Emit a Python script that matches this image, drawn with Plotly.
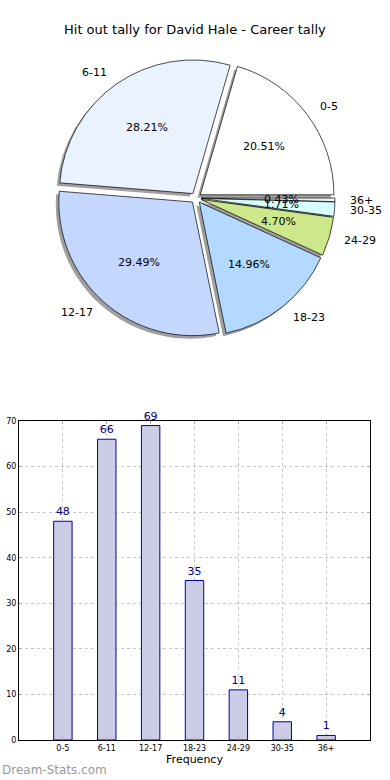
import math
import plotly.graph_objects as go

categories = ["0-5", "6-11", "12-17", "18-23", "24-29", "30-35", "36+"]
counts = [48, 66, 69, 35, 11, 4, 1]
slice_colors = ["#FFFFFF", "#EAF2FF", "#C4D8FF", "#B3D9FF", "#CCE88A", "#D8FFFF", "#F4F4F4"]
y_ticks = [0, 10, 20, 30, 40, 50, 60, 70]
title_text = "Hit out tally for David Hale - Career tally"
x_title = "Frequency"
watermark = "Dream-Stats.com"

W, H = 390, 780
FONT = "DejaVu Sans"

# pie geometry (pixels)
cx, cy, ext = 196, 198, 139
pull = 0.04
r = ext / (1 + pull)

def dom(dx=0, dy=0):
    return dict(x=[(cx - ext + dx) / W, (cx + ext + dx) / W],
                y=[1 - (cy + ext + dy) / H, 1 - (cy - ext + dy) / H])

# counter-clockwise from 3 o'clock == reversed order clockwise ending at 3 o'clock
rev_labels = categories[::-1]
rev_values = counts[::-1]
rev_colors = slice_colors[::-1]
common = dict(labels=rev_labels, values=rev_values, sort=False, direction="clockwise",
              rotation=90, pull=[pull] * len(counts), hoverinfo="skip", showlegend=False,
              textinfo="none")

fig = go.Figure()
fig.add_trace(go.Pie(**common, domain=dom(-3, 3),
                     marker=dict(colors=["rgba(80,80,80,0.55)"] * len(counts),
                                 line=dict(width=0))))
fig.add_trace(go.Pie(**common, domain=dom(),
                     marker=dict(colors=rev_colors, line=dict(color="black", width=0.7))))

# text positions derived from the data (matplotlib-style: pct at 0.6r, labels at 1.1r)
total = sum(counts)
mids, acc = [], 0.0
for v in counts:
    mids.append(2 * math.pi * (acc + v / 2) / total)
    acc += v
pct_text = ["%.2f%%" % (100 * v / total) for v in counts]
px_ = [(0.6 + pull) * r * math.cos(a) for a in mids]
py_ = [(0.6 + pull) * r * math.sin(a) for a in mids]
lx_ = [(1.1 + pull) * r * math.cos(a) for a in mids]
ly_ = [(1.1 + pull) * r * math.sin(a) for a in mids]

# invisible anchor trace for the pie-text coordinate system
fig.add_trace(go.Scatter(x=lx_, y=ly_, mode="markers", marker=dict(opacity=0),
                         xaxis="x2", yaxis="y2", showlegend=False, hoverinfo="skip"))

annots = []
for x, y, t in zip(px_, py_, pct_text):
    annots.append(dict(text=t, x=x, y=y, xref="x2", yref="y2", showarrow=False,
                       font=dict(family=FONT, size=11, color="black"),
                       xanchor="center", yanchor="middle"))
for x, y, t in zip(lx_, ly_, categories):
    annots.append(dict(text=t, x=x, y=y, xref="x2", yref="y2", showarrow=False,
                       font=dict(family=FONT, size=11, color="black"),
                       xanchor="left" if x > 0 else "right", yanchor="middle"))

# bar chart
fig.add_trace(go.Bar(x=categories, y=counts, width=0.42, text=[str(v) for v in counts],
                     textposition="outside", cliponaxis=False,
                     textfont=dict(family=FONT, size=11, color="#000080"),
                     marker=dict(color="#CCCCE6", line=dict(color="#000099", width=1)),
                     showlegend=False, hoverinfo="skip"))

annots += [
    dict(text=title_text, x=0.5, y=1 - 30 / H, xref="paper", yref="paper",
         showarrow=False, font=dict(size=13, color="black"), xanchor="center", yanchor="middle"),
    dict(text=watermark, x=0, y=1 - 770 / H, xref="paper", yref="paper",
         showarrow=False, font=dict(size=12, color="#999999"), xanchor="left", yanchor="middle"),
]

ty = 170  # half-height of the text coordinate box (pixels)
fig.update_layout(
    width=W, height=H, margin=dict(l=0, r=0, t=0, b=0),
    paper_bgcolor="white", plot_bgcolor="rgba(0,0,0,0)",
    font=dict(family=FONT, color="black"),
    xaxis=dict(domain=[19 / W, 370 / W], type="category", range=[-1, 7], automargin=False,
               showgrid=True, gridcolor="#C8C8C8", griddash="dot", gridwidth=1,
               showline=True, linecolor="black", linewidth=1, mirror="allticks",
               tickfont=dict(size=8), ticks="inside", ticklen=3, tickcolor="#AAAAAA",
               title=dict(text=x_title, font=dict(size=11), standoff=3),
               zeroline=False),
    yaxis=dict(domain=[1 - 740 / H, 1 - 421 / H], range=[0, 70], tickvals=y_ticks, automargin=False,
               showgrid=True, gridcolor="#C8C8C8", griddash="dot", gridwidth=1,
               showline=True, linecolor="black", linewidth=1, mirror="allticks",
               tickfont=dict(size=8), ticks="inside", ticklen=3, tickcolor="#AAAAAA",
               zeroline=False),
    xaxis2=dict(domain=[0, 1], range=[-cx, W - cx], visible=False, anchor="y2", automargin=False),
    yaxis2=dict(domain=[1 - (cy + ty) / H, 1 - (cy - ty) / H], range=[-ty, ty],
                visible=False, anchor="x2", automargin=False),
    annotations=annots,
)

fig.write_html("out.html", config={"displayModeBar": False},
               post_script="document.body.style.margin='0';")
